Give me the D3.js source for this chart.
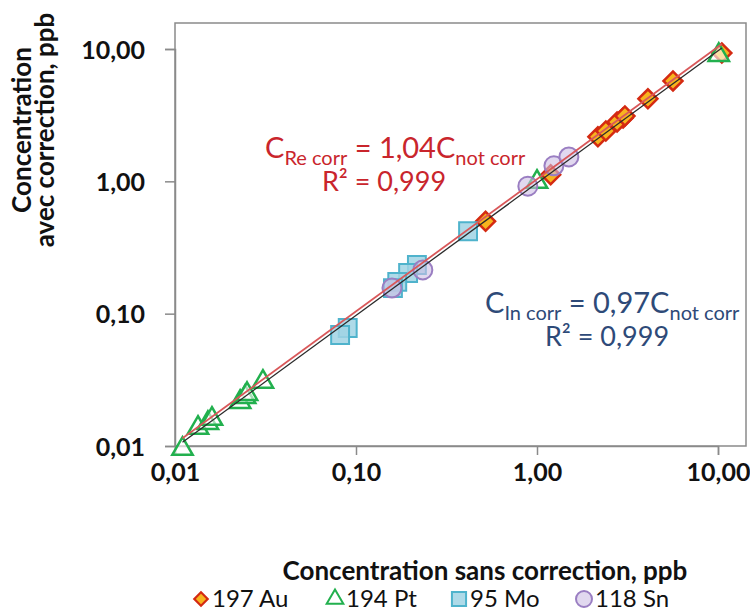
<!DOCTYPE html>
<html><head><meta charset="utf-8">
<script src="https://cdn.jsdelivr.net/npm/d3@7"></script>
<style>body{margin:0;background:#fff}svg{display:block}</style>
</head><body><svg id="c" width="750" height="615"></svg>
<script>
// ---- data ----
const tickValues = [0.01, 0.1, 1, 10];
const tickLabels = ["0,01", "0,10", "1,00", "10,00"];
const auX = [10.5, 5.64, 4.10, 2.99, 2.17, 2.40, 2.77, 3.06, 1.19, 0.52];
const auY = [9.34, 5.74, 4.20, 3.01, 2.17, 2.40, 2.81, 3.12, 1.12, 0.50];
const ptX = [0.011, 0.0134, 0.0152, 0.0160, 0.0229, 0.0244, 0.0250, 0.0306, 1.00, 10.1];
const ptY = [0.0095, 0.0137, 0.0149, 0.0160, 0.0215, 0.0234, 0.0247, 0.0305, 0.99, 9.0];
const moX = [0.416, 0.217, 0.194, 0.169, 0.160, 0.090, 0.0817];
const moY = [0.42, 0.233, 0.203, 0.174, 0.156, 0.078, 0.069];
const snX = [0.89, 1.24, 1.50, 0.234, 0.158];
const snY = [0.92, 1.31, 1.53, 0.214, 0.156];
const fitRange = [0.011, 10.5];
const slopeRe = 1.04, slopeIn = 0.97;
const seriesNames = ["197 Au", "194 Pt", "95 Mo", "118 Sn"];

(function(){
const svg = d3.select("#c");
const font = "Lato, 'Open Sans', sans-serif";
const x = d3.scaleLog().domain([0.01, 10]).range([175, 718]);
const y = d3.scaleLog().domain([0.01, 10]).range([446, 49]);
const pL = 175, pR = 746, pT = 23, pB = 446;

// frame
svg.append("rect").attr("x", pL).attr("y", pT).attr("width", pR-pL).attr("height", pB-pT)
  .attr("fill", "none").attr("stroke", "#8a8a8a").attr("stroke-width", 1.5);

// axes
const xAxis = d3.axisBottom(x).tickValues(tickValues).tickFormat((d,i)=>tickLabels[i]).tickSize(9).tickPadding(8);
const gx = svg.append("g").attr("transform", `translate(0,${pB})`).call(xAxis);
const yAxis = d3.axisLeft(y).tickValues(tickValues).tickFormat((d,i)=>tickLabels[i]).tickSize(10).tickPadding(20);
const gy = svg.append("g").attr("transform", `translate(${pL},0)`).call(yAxis);
[gx, gy].forEach(g => {
  g.select(".domain").attr("stroke", "#8a8a8a").attr("stroke-width", 1.5);
  g.selectAll(".tick line").attr("stroke", "#8a8a8a").attr("stroke-width", 1.5);
  g.selectAll(".tick text").attr("font-family", font).attr("font-weight", "bold")
    .attr("font-size", 25).attr("fill", "#111");
});
gy.selectAll(".tick text").attr("dy", "0.36em");

// markers
const plot = svg.append("g");
function pts(xs, ys){ return xs.map((v,i)=>({x:v, y:ys[i]})); }
const diamondPath = d3.symbol().type(d3.symbolSquare).size(180)();
const squarePath = d3.symbol().type(d3.symbolSquare).size(320)();
const triPath = d3.symbol().type(d3.symbolTriangle).size(180)();
const cAu = ["#F7B41E", "#D42A12"], cPt = ["rgba(255,255,255,0.6)", "#22B04E"],
      cMo = ["rgba(160,212,228,0.85)", "#4FB3CC"], cSn = ["rgba(205,190,228,0.6)", "#9A7EC2"];

plot.selectAll(".au").data(pts(auX, auY)).join("path")
  .attr("d", diamondPath)
  .attr("transform", d=>`translate(${x(d.x)},${y(d.y)}) rotate(45)`)
  .attr("fill", cAu[0]).attr("stroke", cAu[1]).attr("stroke-width", 2.5);
plot.selectAll(".pt").data(pts(ptX, ptY)).join("path")
  .attr("d", triPath)
  .attr("transform", d=>`translate(${x(d.x)},${y(d.y)})`)
  .attr("fill", cPt[0]).attr("stroke", cPt[1]).attr("stroke-width", 2.5);
plot.selectAll(".mo").data(pts(moX, moY)).join("path")
  .attr("d", squarePath)
  .attr("transform", d=>`translate(${x(d.x)},${y(d.y)})`)
  .attr("fill", cMo[0]).attr("stroke", cMo[1]).attr("stroke-width", 2);
plot.selectAll(".sn").data(pts(snX, snY)).join("circle")
  .attr("cx", d=>x(d.x)).attr("cy", d=>y(d.y)).attr("r", 9.5)
  .attr("fill", cSn[0]).attr("stroke", cSn[1]).attr("stroke-width", 2);

// trend lines
const line = d3.line().x(d=>x(d[0])).y(d=>y(d[1]));
plot.append("path").attr("d", line(fitRange.map(v=>[v, v*slopeRe])))
  .attr("stroke", "#D9585A").attr("stroke-width", 1.8).attr("fill", "none");
plot.append("path").attr("d", line(fitRange.map(v=>[v, v*slopeIn])))
  .attr("stroke", "#2a2a2a").attr("stroke-width", 1.3).attr("fill", "none");

// equations
function eq(xp, yp, color, parts){
  const t = svg.append("text").attr("x", xp).attr("y", yp).attr("font-family", font).attr("fill", color);
  let prev = 0;
  parts.forEach(p => {
    const dy = p.sub ? 7 : 0;
    t.append("tspan").attr("font-size", p.sub ? 20 : 29).attr("dy", dy - prev).text(p.t);
    prev = dy;
  });
}
const red = "#C9252C", blue = "#2E4A78";
eq(265, 158, red, [{t:"C"},{t:"Re corr",sub:1},{t:" = 1,04C"},{t:"not corr",sub:1}]);
svg.append("text").attr("x", 384).attr("y", 191).attr("text-anchor","middle").attr("font-family", font)
  .attr("font-size", 27).attr("fill", red).text("R² = 0,999");
eq(485, 313, blue, [{t:"C"},{t:"In corr",sub:1},{t:" = 0,97C"},{t:"not corr",sub:1}]);
svg.append("text").attr("x", 607).attr("y", 346).attr("text-anchor","middle").attr("font-family", font)
  .attr("font-size", 27).attr("fill", blue).text("R² = 0,999");

// axis titles
const yt = svg.append("text").attr("transform", "translate(0,130) rotate(-90)").attr("text-anchor","middle")
  .attr("font-family", font).attr("font-weight","bold").attr("font-size", 26).attr("fill","#111");
yt.append("tspan").attr("x", 0).attr("y", 31).text("Concentration");
yt.append("tspan").attr("x", 0).attr("y", 54).text("avec correction, ppb");
svg.append("text").attr("x", 485).attr("y", 580).attr("text-anchor","middle")
  .attr("font-family", font).attr("font-weight","bold").attr("font-size", 26).attr("fill","#111")
  .text("Concentration sans correction, ppb");

// legend
const legX = [201, 335, 459, 584];
const leg = svg.append("g").attr("font-family", font).attr("font-size", 24).attr("fill", "#111");
seriesNames.forEach((n, i) => {
  const g = leg.append("g").attr("transform", `translate(${legX[i]},599)`);
  if (i === 0) g.append("path").attr("d", d3.symbol().type(d3.symbolSquare).size(90)()).attr("transform","rotate(45)")
    .attr("fill", cAu[0]).attr("stroke", cAu[1]).attr("stroke-width", 2.2);
  if (i === 1) g.append("path").attr("d", d3.symbol().type(d3.symbolTriangle).size(120)())
    .attr("fill", "#fff").attr("stroke", cPt[1]).attr("stroke-width", 2);
  if (i === 2) g.append("path").attr("d", d3.symbol().type(d3.symbolSquare).size(200)())
    .attr("fill", cMo[0]).attr("stroke", cMo[1]).attr("stroke-width", 2);
  if (i === 3) g.append("circle").attr("r", 8)
    .attr("fill", cSn[0]).attr("stroke", cSn[1]).attr("stroke-width", 2);
  g.append("text").attr("x", 11).attr("dy", "0.35em").text(n);
});
})();
</script></body></html>
